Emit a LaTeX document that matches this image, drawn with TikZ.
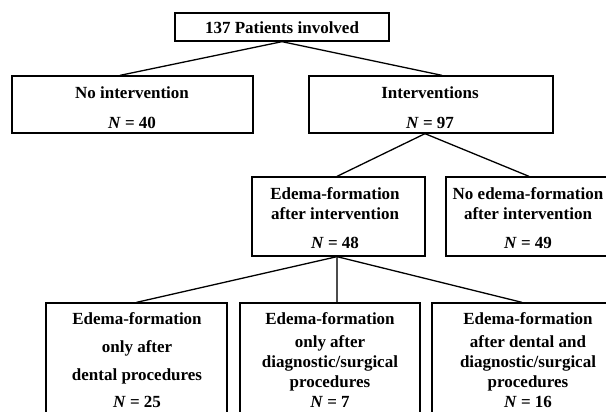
\documentclass[tikz,border=0pt]{standalone}
\usepackage{fontspec}
\setmainfont{Liberation Serif}
\usetikzlibrary{calc}
\newcommand{\sv}{\rule{0pt}{13bp}}
\tikzset{
  box/.style={draw=black, line width=1.3bp, rectangle, inner sep=0pt},
  txt/.style={anchor=north, inner sep=0pt, align=center, font={\fontsize{17bp}{20bp}\selectfont\bfseries}},
  link/.style={draw=black, line width=1.3bp},
}
\begin{document}
\begin{tikzpicture}[x=1bp, y=-1bp]
\useasboundingbox (0,0) rectangle (606,411);
\clip (0,0) rectangle (606,411);
% boxes
\node[box, minimum width=214bp, minimum height=28bp] (top) at (282,27) {};
\node[box, minimum width=241bp, minimum height=57bp] (lbox) at (132.5,104.5) {};
\node[box, minimum width=244bp, minimum height=57bp] (ibox) at (431,104.5) {};
\node[box, minimum width=173bp, minimum height=79bp] (ebox) at (338.5,216.5) {};
\node[box, minimum width=166bp, minimum height=79bp] (nbox) at (529,216.5) {};
\node[box, minimum width=181bp, minimum height=122bp] (b1) at (136.5,364) {};
\node[box, minimum width=180bp, minimum height=122bp] (b2) at (330,364) {};
\node[box, minimum width=192bp, minimum height=122bp] (b3) at (528,364) {};
% texts
\node[txt] (ttop) at (282,20) {\sv 137 Patients involved};
\node[txt] (tl) at (132,85) {\sv No intervention\\[10bp]\textit{N} = 40};
\node[txt] (ti) at (430,85) {\sv Interventions\\[10bp]\textit{N} = 97};
\node[txt] (te) at (335,186) {\sv Edema-formation\\after intervention\\[9bp]\textit{N} = 48};
\node[txt] (tn) at (528,186) {\sv No edema-formation\\after intervention\\[9bp]\textit{N} = 49};
\node[txt] (t1) at (137,311) {\sv Edema-formation\\[8bp]only after\\[8bp]dental procedures\\[7bp]\textit{N} = 25};
\node[txt] (t2) at (330,311) {\sv Edema-formation\\[3bp]only after\\diagnostic/surgical\\procedures\\\textit{N} = 7};
\node[txt] (t3) at (528,311) {\sv Edema-formation\\[3bp]after dental and\\diagnostic/surgical\\procedures\\\textit{N} = 16};
% connectors
\draw[link] (top.south) -- ([xshift=-12.5bp]lbox.north);
\draw[link] (top.south) -- ([xshift=11bp]ibox.north);
\draw[link] ([xshift=-6bp]ibox.south) -- ([xshift=-1.5bp]ebox.north);
\draw[link] ([xshift=-6bp]ibox.south) -- (nbox.north);
\draw[link] ([xshift=-1.5bp]ebox.south) -- (b1.north);
\draw[link, draw=black!70, line width=1.1bp] ([xshift=-1.5bp]ebox.south) -- ([xshift=-1.5bp]ebox.south |- b2.north);
\draw[link] ([xshift=-1.5bp]ebox.south) -- ([xshift=-6bp]b3.north);
\end{tikzpicture}
\end{document}
